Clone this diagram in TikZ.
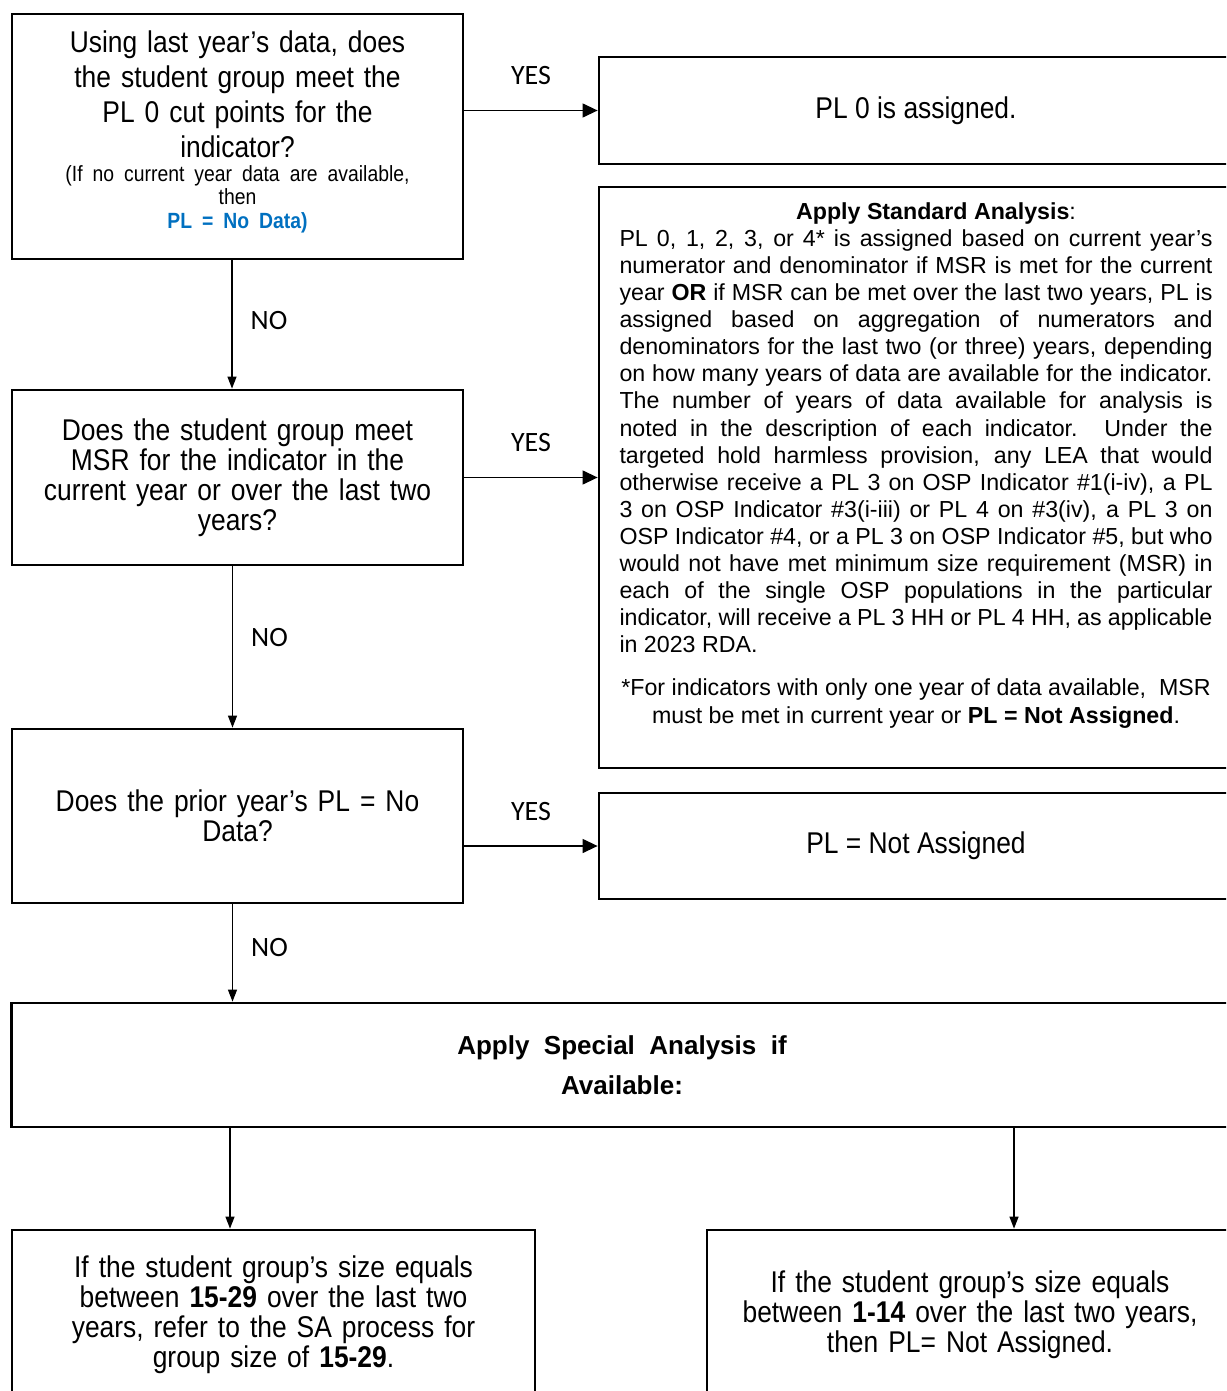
\documentclass[tikz,border=0pt]{standalone}
\usepackage{fontspec}
\setmainfont[FakeStretch=0.88]{Liberation Sans}
\newfontfamily\wideface{Liberation Sans}
\newfontfamily\answerface{Carlito}
\usetikzlibrary{arrows.meta,positioning}
\definecolor{nodatablue}{RGB}{0,112,192}

\begin{document}
\begin{tikzpicture}[x=0.5pt,y=-0.5pt,
    box/.style={draw,line width=1.4pt,inner sep=0pt,align=center},
    ask/.style={box,font=\fontsize{15}{15}\selectfont},
    link/.style={line width=0.65pt,-{Triangle[length=7.5pt,width=7pt]}},
    down/.style={line width=0.65pt,-{Triangle[length=6pt,width=4.5pt]}},
    answer/.style={font=\answerface\fontsize{14}{14}\selectfont,inner sep=0pt}]
  \useasboundingbox (0,0) rectangle (1226,1391);
  \clip (0,0) rectangle (1226,1391);

  % --- left column: the three questions, one below the other
  \node[ask,minimum width=225.5pt,minimum height=122.5pt,text width=212pt] (lastyear) at (237.5,136.5)
    {\fontsize{15}{17.5}\selectfont Using last year’s data, does\\ the student group meet the\\
     PL 0 cut points for the\\ indicator?\par
     \fontsize{11}{11.8}\selectfont (If no current year data are available,\\ then\\
     \textcolor{nodatablue}{\bfseries PL = No Data)}\par\vspace{-5pt}\hbox{}};
  \node[ask,minimum width=225.5pt,minimum height=87.5pt,text width=212pt] (msr) at (237.5,477.5)
    {Does the student group meet\\ MSR for the indicator in the\\ current year or over the last two\\ years?};
  \node[ask,minimum width=225.5pt,minimum height=87pt,text width=212pt] (prior) at (237.5,816)
    {Does the prior year’s PL = No\\ Data?};

  % --- right column: the outcomes (cut off at the page edge)
  \node[ask,minimum width=317pt,minimum height=53.5pt] (plzero) at (916,110.5) {PL 0 is assigned.};
  \node[box,minimum width=317pt,minimum height=290.5pt,text width=296.5pt,align=justify,
        font=\wideface\fontsize{11.6}{13.55}\selectfont] (standard) at (916,477.5)
    {{\centering\hspace*{20pt}\textbf{Apply Standard Analysis}:\par}
     PL 0, 1, 2, 3, or 4* is assigned based on current year’s\linebreak
     numerator and denominator if MSR is met for the current\linebreak
     year \textbf{OR} if MSR can be met over the last two years, PL is\linebreak
     assigned based on aggregation of numerators and\linebreak
     denominators for the last two (or three) years, depending\linebreak
     on how many years of data are available for the indicator.\linebreak
     The number of years of data available for analysis is\linebreak
     noted in the description of each indicator. Under the\linebreak
     targeted hold harmless provision, any LEA that would\linebreak
     otherwise receive a PL 3 on OSP Indicator \#1(i-iv), a PL\linebreak
     3 on OSP Indicator \#3(i-iii) or PL 4 on \#3(iv), a PL 3 on\linebreak
     OSP Indicator \#4, or a PL 3 on OSP Indicator \#5, but who\linebreak
     would not have met minimum size requirement (MSR) in\linebreak
     each of the single OSP populations in the particular\linebreak
     indicator, will receive a PL 3 HH or PL 4 HH, as applicable\linebreak
     in 2023 RDA.\par\vspace{8pt}
     {\centering *For indicators with only one year of data available,\ \ MSR\\
      must be met in current year or \textbf{PL = Not Assigned}.\par}\vspace{1.25pt}\hbox{}};
  \node[ask,minimum width=317pt,minimum height=53pt] (notassigned) at (916,846) {PL = Not Assigned};

  % --- special analysis and its two branches
  \node[box,minimum width=610.5pt,minimum height=62pt,
        font=\wideface\fontsize{13}{20}\selectfont] (special) at (622,1065)
    {\textbf{Apply\ \ Special\ \ Analysis\ \ if}\\ \textbf{Available:}};
  \node[ask,minimum width=261.5pt,minimum height=85pt,text width=246pt] (bigsa) at (273.5,1315)
    {If the student group’s size equals\\ between \textbf{15-29} over the last two\\
     years, refer to the SA process for\\ group size of \textbf{15-29}.};
  \node[ask,minimum width=263pt,minimum height=85pt,text width=246pt] (smallsa) at (970,1315)
    {If the student group’s size equals\\ between \textbf{1-14} over the last two years,\\
     then PL= Not Assigned.};

  % --- connectors
  \draw[link] (lastyear.east |- plzero.west) -- (plzero.west)
    node[answer,midway,yshift=17.5pt] {YES};
  \draw[link] (msr.east) -- (standard.west)
    node[answer,midway,yshift=17.5pt] {YES};
  \draw[link] (prior.east |- notassigned.west) -- (notassigned.west)
    node[answer,midway,yshift=17pt] {YES};
  \draw[down] ([xshift=-2.75pt]lastyear.south) -- ([xshift=-2.75pt]msr.north)
    node[answer,pos=0.47,xshift=18.5pt] {NO};
  \draw[down] ([xshift=-2.5pt]msr.south) -- ([xshift=-2.5pt]prior.north)
    node[answer,pos=0.44,xshift=18.5pt] {NO};
  \draw[down] ([xshift=-2.5pt]prior.south) -- ([xshift=-2.5pt]special.north -| prior.south)
    node[answer,pos=0.44,xshift=18.5pt] {NO};
  \coordinate (legleft) at (230,0);
  \coordinate (legright) at (1014,0);
  \draw[down] (special.south -| legleft) -- (bigsa.north -| legleft);
  \draw[down] (special.south -| legright) -- (smallsa.north -| legright);
\end{tikzpicture}
\end{document}
